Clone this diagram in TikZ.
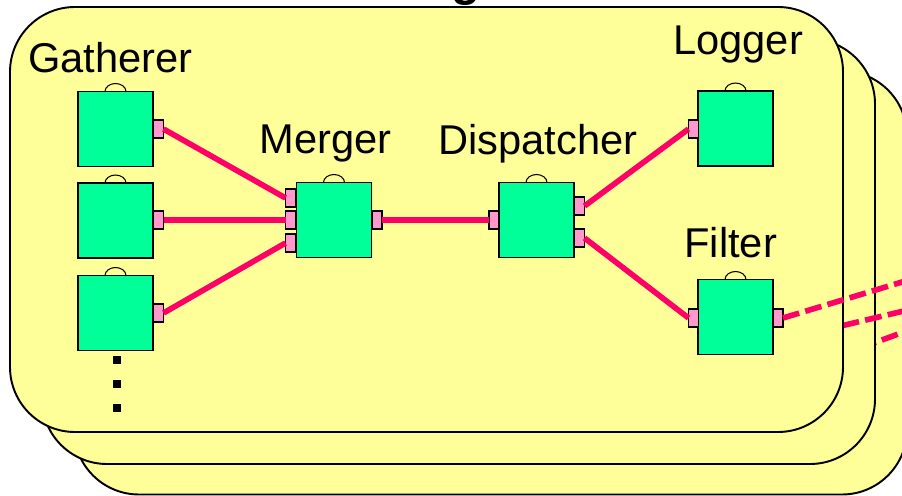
\documentclass[tikz,border=0pt]{standalone}
\usepackage{fontspec}
\setmainfont{Liberation Sans}
\definecolor{panel}{HTML}{FFFF99}
\definecolor{compgreen}{HTML}{00FF99}
\definecolor{portpink}{HTML}{FF99CC}
\definecolor{wirered}{HTML}{FF0066}
\begin{document}
\begin{tikzpicture}[x=0.02cm,y=-0.02cm,
  frame/.style={draw=black,line width=1.1pt,fill=panel,rounded corners=1.3cm},
  comp/.style={draw=black,line width=1.1pt,fill=compgreen,minimum width=1.5cm,minimum height=1.5cm,inner sep=0pt,outer sep=0pt},
  port/.style={draw=black,line width=0.9pt,fill=portpink,minimum width=0.2cm,minimum height=0.36cm,inner sep=0pt,outer sep=0pt},
  wire/.style={draw=wirered,line width=3.2pt},
  dwire/.style={wire,dash pattern=on 9.6pt off 3.6pt},
  hump/.style={draw=black,line width=0.6pt},
  lbl/.style={anchor=base west,inner sep=0pt,font=\fontsize{23.7}{28}\selectfont},
  dot/.style={fill=black,minimum size=0.16cm,inner sep=0pt},
]
\useasboundingbox (0,0) rectangle (902,496);

% heading, mostly above the page
\node[anchor=base west,inner sep=0pt,font=\bfseries\fontsize{27}{30}\selectfont] (title) at (451,-4) {g};

% back copy with its outgoing wire
\draw[frame] (74,71) rectangle (907,494.5);
\coordinate (w3a) at (860,348);
\coordinate (w3b) at (912,329);
\draw[dwire] (w3a) -- (w3b);

% middle copy with its outgoing wire
\draw[frame] (42,39) rectangle (875,464);
\coordinate (w2a) at (820,331);
\coordinate (w2b) at (912,309);
\draw[dwire] (w2a) -- (w2b);

% front copy
\draw[frame] (10,7) rectangle (843,432);

% components
\node[comp] (g1) at (115.5,129) {};
\node[comp] (g2) at (115.5,220.5) {};
\node[comp] (g3) at (115.5,313) {};
\node[comp] (m)  at (334,220) {};
\node[comp] (d)  at (536.5,220) {};
\node[comp] (lg) at (735.5,128.5) {};
\node[comp] (f)  at (735.5,317) {};

\foreach \n in {g1,g2,g3,m,d,lg,f}
  \draw[hump] ([xshift=-0.21cm]\n.north) arc[start angle=180,end angle=0,x radius=0.21cm,y radius=0.16cm];

% ports
\node[port] (g1p) at (158.5,129) {};
\node[port] (g2p) at (158.5,220) {};
\node[port] (g3p) at (158.5,313) {};
\node[port] (mp1) at (290.5,198) {};
\node[port] (mp2) at (290.5,220) {};
\node[port] (mp3) at (290.5,243) {};
\node[port] (mo)  at (377,220) {};
\node[port] (dp)  at (494,220) {};
\node[port] (do1) at (579.5,206) {};
\node[port] (do2) at (579.5,238) {};
\node[port] (lp)  at (693.5,129) {};
\node[port] (fp)  at (693.5,318) {};
\node[port] (fo)  at (778,318) {};

% wires
\draw[wire] (g1p.east) -- (mp1.west);
\draw[wire] (g2p.east) -- (mp2.west);
\draw[wire] (g3p.east) -- (mp3.west);
\draw[wire] (mo.east) -- (dp.west);
\draw[wire] (do1.east) -- (lp.west);
\draw[wire] (do2.east) -- (fp.west);
\coordinate (w1b) at (912,279);
\draw[dwire] (fo.east) -- (w1b);

% more gatherers
\node[dot] (dot1) at (117,360) {};
\node[dot] (dot2) at (117,384) {};
\node[dot] (dot3) at (117,408) {};

% labels
\node[lbl] (lgat) at (28,73) {Gatherer};
\node[lbl] (lmer) at (259,154) {Merger};
\node[lbl] (ldis) at (438,155) {Dispatcher};
\node[lbl] (llog) at (673,55) {Logger};
\node[lbl] (lfil) at (684,258) {Filter};
\end{tikzpicture}
\end{document}
